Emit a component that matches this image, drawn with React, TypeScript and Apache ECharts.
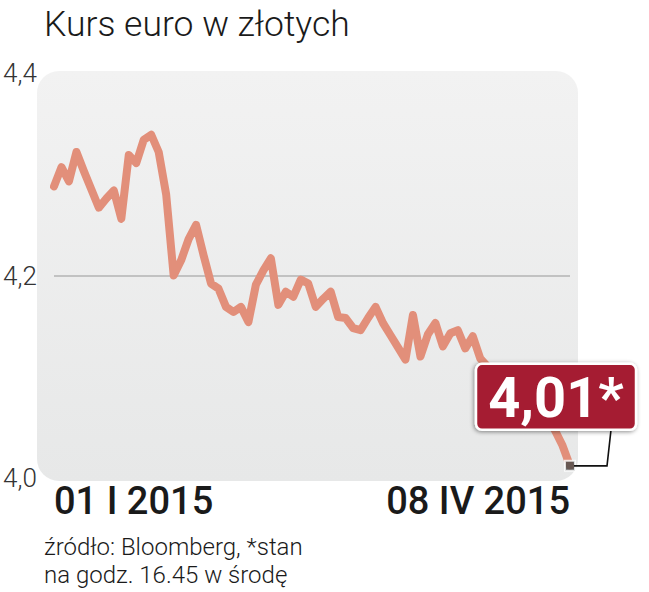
import { useEffect, useRef } from "react";
import * as echarts from "echarts";

// Business days, 01 I 2015 – 08 IV 2015
const janDays = [1, 2, 5, 6, 7, 8, 9, 12, 13, 14, 15, 16, 19, 20, 21, 22, 23, 26, 27, 28, 29, 30];
const febDays = [2, 3, 4, 5, 6, 9, 10, 11, 12, 13, 16, 17, 18, 19, 20, 23, 24, 25, 26, 27];
const marDays = [2, 3, 4, 5, 6, 9, 10, 11, 12, 13, 16, 17, 18, 19, 20, 23, 24, 25, 26, 27, 30, 31];
const aprDays = [1, 2, 3, 6, 7, 8];

const months: [string, number[]][] = [
  ["I", janDays],
  ["II", febDays],
  ["III", marDays],
  ["IV", aprDays],
];
const categories = months.flatMap(([m, ds]) =>
  ds.map((d) => `${String(d).padStart(2, "0")} ${m} 2015`)
);

// EUR/PLN rate
const rates = [
  4.288, 4.307, 4.293, 4.322, 4.303, 4.285, 4.267, 4.276, 4.284, 4.256,
  4.319, 4.311, 4.334, 4.339, 4.322, 4.28, 4.2, 4.215, 4.236, 4.25,
  4.22, 4.192, 4.187, 4.169, 4.164, 4.169, 4.154, 4.191, 4.205, 4.217,
  4.171, 4.184, 4.179, 4.196, 4.192, 4.169, 4.177, 4.184, 4.159, 4.158,
  4.148, 4.146, 4.158, 4.169, 4.153, 4.141, 4.129, 4.117, 4.161, 4.12,
  4.142, 4.153, 4.13, 4.143, 4.146, 4.128, 4.14, 4.118, 4.11, 4.102,
  4.105, 4.092, 4.086, 4.08, 4.074, 4.066, 4.058, 4.047, 4.032, 4.012,
];

const yMin = 4.0;
const yMax = 4.4;
const yStep = 0.2;
const lastLabel = "4,01*";
const titleText = "Kurs euro w złotych";
const sourceLine1 = "źródło: Bloomberg, *stan";
const sourceLine2 = "na godz. 16.45 w środę";

export default function App() {
  const ref = useRef<HTMLDivElement>(null);

  useEffect(() => {
    if (!ref.current) return;
    const chart = echarts.init(ref.current, undefined, { renderer: "svg" });
    const last = rates.length - 1;
    const font = "Roboto, 'Noto Sans', sans-serif";
    const noteStyle = {
      fontFamily: font,
      fontWeight: 300,
      fontSize: 24,
      lineHeight: 24,
      color: "#1a1a1a",
    };

    chart.setOption({
      animation: false,
      backgroundColor: "#ffffff",
      title: [
        {
          text: titleText,
          left: 44,
          top: 6,
          padding: 0,
          textStyle: {
            fontFamily: font,
            fontWeight: 300,
            fontSize: 35.5,
            color: "#1a1a1a",
          },
        },
        { text: sourceLine1, left: 44, top: 535, padding: 0, textStyle: noteStyle },
        { text: sourceLine2, left: 44, top: 563, padding: 0, textStyle: noteStyle },
      ],
      grid: { left: 50, right: 79, top: 73, bottom: 114 },
      xAxis: {
        type: "category",
        data: categories,
        boundaryGap: false,
        axisLine: { show: false },
        axisTick: { show: false },
        axisLabel: {
          interval: (i: number) => i === 0 || i === last,
          showMinLabel: true,
          showMaxLabel: true,
          alignMinLabel: "left",
          alignMaxLabel: "right",
          margin: 4,
          fontFamily: font,
          fontWeight: 500,
          fontSize: 38,
          color: "#1a1a1a",
        },
        splitLine: { show: false },
      },
      yAxis: {
        type: "value",
        min: yMin,
        max: yMax,
        interval: yStep,
        axisLine: { show: false },
        axisTick: { show: false },
        axisLabel: {
          align: "left",
          margin: 51,
          fontFamily: font,
          fontWeight: 300,
          fontSize: 26,
          color: "#333333",
          formatter: (v: number) => v.toFixed(1).replace(".", ","),
        },
        splitLine: {
          show: true,
          lineStyle: {
            color: ["rgba(0,0,0,0)", "#b3b3b3", "rgba(0,0,0,0)"],
            width: 1.5,
          },
        },
      },
      series: [
        {
          type: "line",
          data: rates,
          symbol: "none",
          z: 3,
          lineStyle: { color: "#e28f7a", width: 8, join: "round", cap: "round" },
        },
        {
          type: "scatter",
          data: rates.map((v, i) => (i === last ? v : "-")),
          symbol: "rect",
          symbolSize: 10,
          z: 6,
          itemStyle: { color: "#4a4a4a", borderColor: "#ffffff", borderWidth: 2 },
        },
      ],
    });

    const p = chart.convertToPixel({ seriesIndex: 0 }, [last, rates[last]]) as number[];
    const px = p[0];
    const py = p[1];
    chart.setOption({
      graphic: [
        {
          type: "rect",
          z: -10,
          silent: true,
          shape: { x: 37, y: 71, width: 541, height: 410, r: 22 },
          style: {
            fill: new echarts.graphic.LinearGradient(0, 0, 0, 1, [
              { offset: 0, color: "#f2f2f2" },
              { offset: 1, color: "#e7e8e8" },
            ]),
          },
        },
        {
          type: "polyline",
          z: 100,
          silent: true,
          shape: {
            points: [
              [px + 4, py],
              [px + 37, py],
              [px + 41, py - 36],
            ],
          },
          style: { stroke: "#111111", lineWidth: 1.6, fill: "none" },
        },
        {
          type: "rect",
          z: 101,
          silent: true,
          shape: { x: px - 94, y: py - 102, width: 160, height: 66, r: 6 },
          style: {
            fill: "#a51c31",
            stroke: "#ffffff",
            lineWidth: 2.5,
            shadowBlur: 4,
            shadowColor: "rgba(0,0,0,0.45)",
            shadowOffsetX: -1,
            shadowOffsetY: 1,
          },
        },
        {
          type: "text",
          z: 102,
          silent: true,
          x: px - 14,
          y: py - 68,
          style: {
            text: lastLabel,
            fill: "#ffffff",
            fontFamily: font,
            fontWeight: 700,
            fontSize: 56,
            align: "center",
            verticalAlign: "middle",
          },
        },
      ],
    });

    return () => chart.dispose();
  }, []);

  return (
    <div
      ref={ref}
      style={{ position: "fixed", left: 0, top: 0, width: 649, height: 592 }}
    />
  );
}
